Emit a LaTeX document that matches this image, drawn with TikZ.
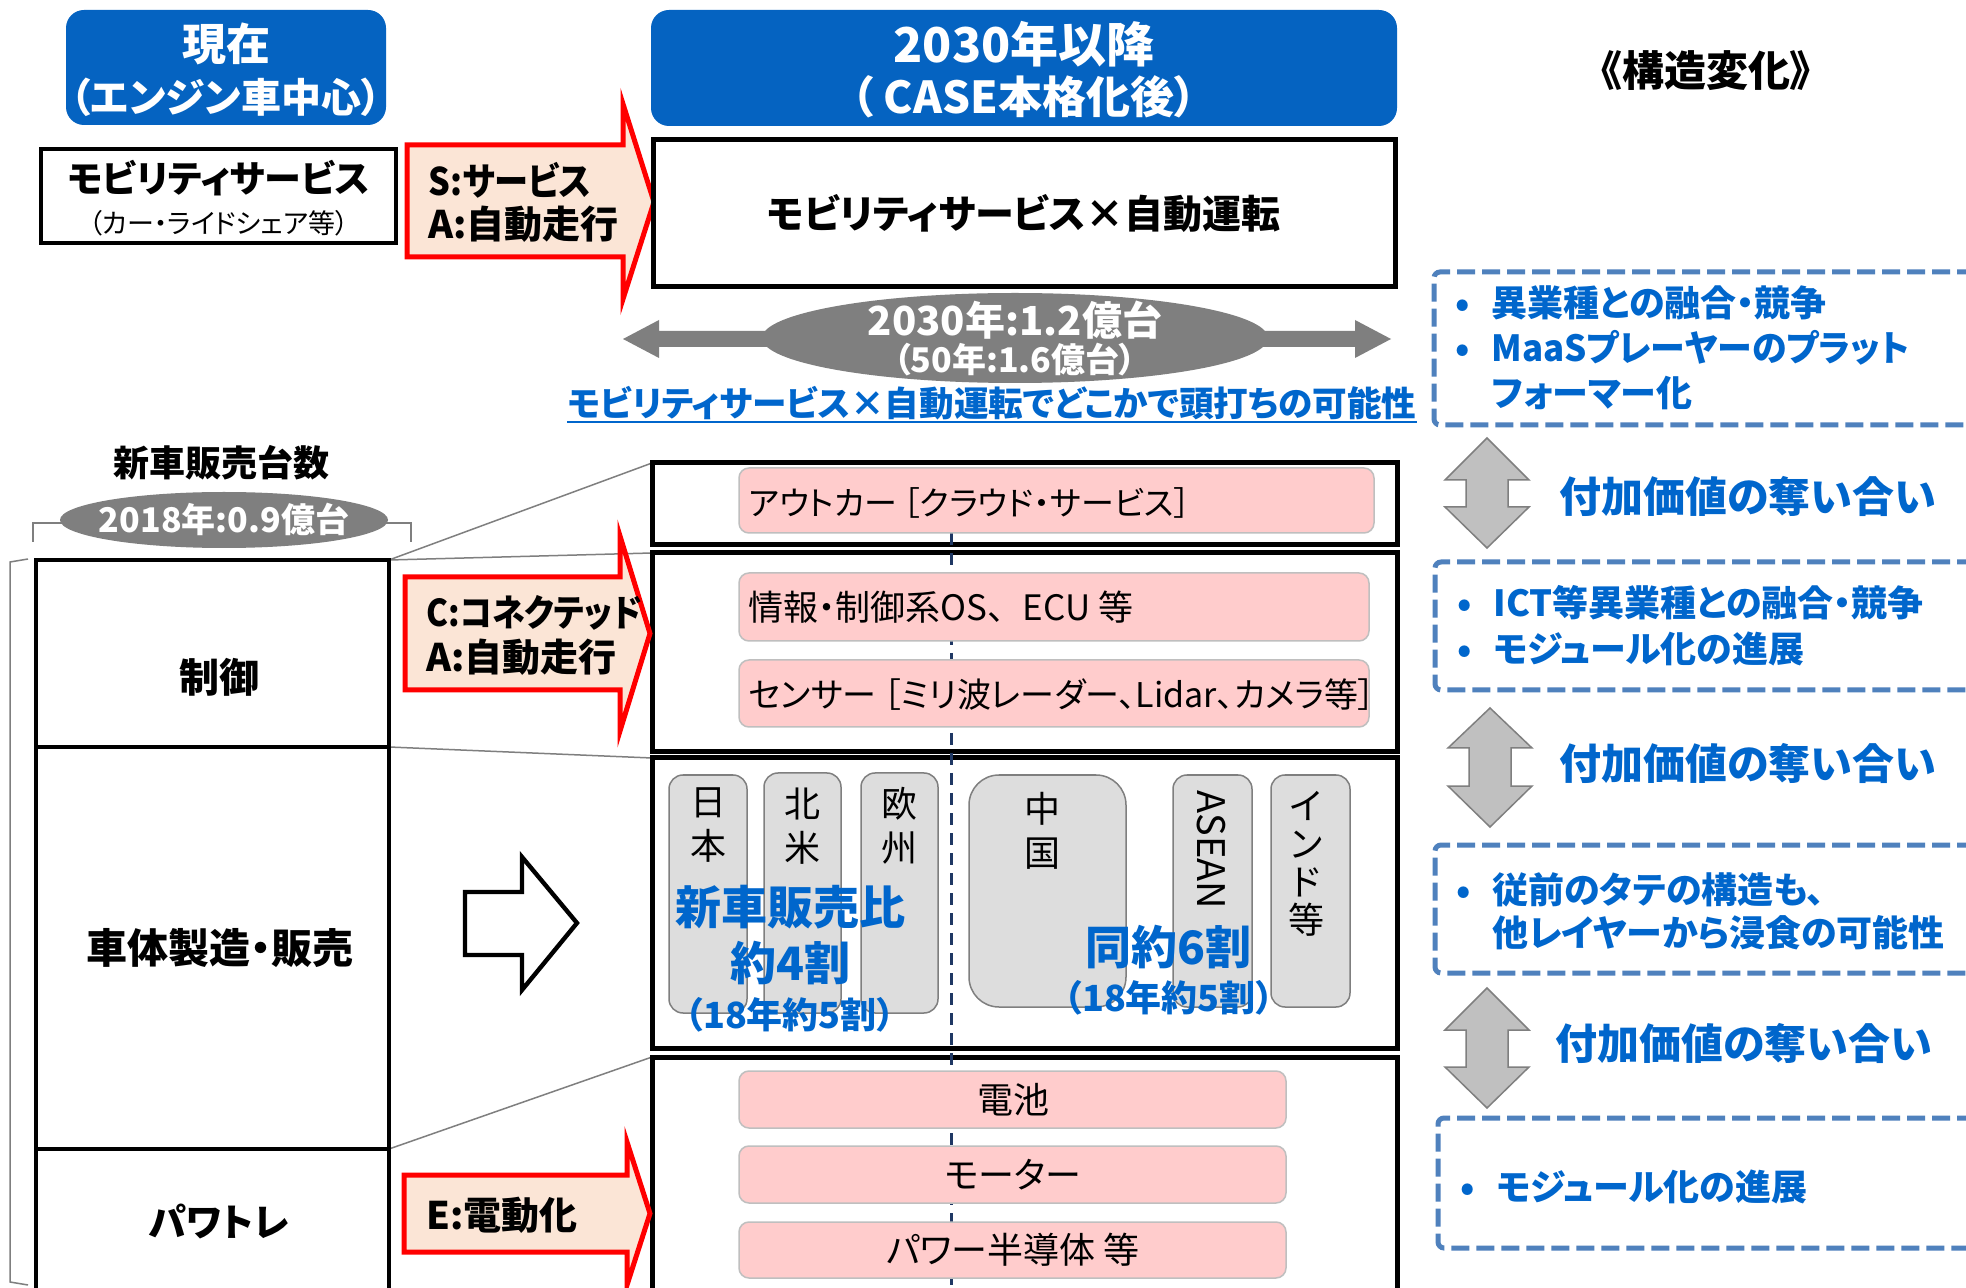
\documentclass[tikz,border=0pt]{standalone}
\usepackage{fontspec}
\setmainfont{Noto Sans CJK JP}[RawFeature={+palt}]
\newfontfamily\jpfull{Noto Sans CJK JP}
\usetikzlibrary{shapes.geometric}
\definecolor{hblue}{HTML}{0563C1}
\definecolor{tblue}{HTML}{0066CC}
\definecolor{dblue}{HTML}{4F81BD}
\definecolor{navy}{HTML}{1F3864}
\definecolor{pinkf}{HTML}{FFCCCC}
\definecolor{peach}{HTML}{FBE5D6}
\definecolor{cgray}{HTML}{DDDDDD}
\definecolor{agray}{HTML}{C0C0C0}
\definecolor{mgray}{HTML}{7F7F7F}
\definecolor{lgray}{HTML}{BFBFBF}
\begin{document}
\begin{tikzpicture}[x=0.5pt,y=-0.5pt,
  T/.style={inner sep=0pt, font=\fontsize{#1}{#1}\selectfont},
  B/.style={inner sep=0pt, font=\fontsize{#1}{#1}\selectfont\bfseries},
  V/.style={inner sep=0pt, align=center, font=\fontsize{18pt}{22pt}\selectfont},
  blk/.style={draw=black, line width=2pt, inner sep=0pt, fill=white},
  hdr/.style={fill=hblue, rounded corners=9pt, inner sep=0pt},
  pinkbox/.style={fill=pinkf, draw=lgray, line width=0.75pt, rounded corners=5pt, inner sep=0pt, minimum width=#1},
  ctry/.style={fill=cgray, draw=mgray, line width=0.75pt, rounded corners=7pt, inner sep=0pt},
  redarrow/.style={fill=peach, draw=red, line width=2.5pt},
  varrow/.style={fill=agray, draw=mgray, line width=0.75pt},
  dbox/.style={draw=dblue, line width=2.5pt, dash pattern=on 9pt off 3.5pt, rounded corners=3pt},
  conn/.style={draw=mgray, line width=0.75pt},
]
\fill[white] (0,0) rectangle (1966,1288);
\useasboundingbox (0,0) rectangle (1966,1288);

% headers
\node[hdr, minimum width=160pt, minimum height=57.5pt] (h1) at (226,67.5) {};
\node[B=22pt, text=white] (h1a) at (226,44) {現在};
\node[B=20pt, text=white] (h1b) at (226,97) {（エンジン車中心）};
\node[hdr, minimum width=373pt, minimum height=58pt] (h2) at (1024,68) {};
\node[B=24pt, text=white] (h2a) at (1024,44) {2030年以降};
\node[B=22pt, text=white] (h2b) at (1024,97) {（ CASE本格化後）};
\node[B=21pt] (kozo) at (1706,71) {《構造変化》};

% mobility service (current)
\node[blk, minimum width=177.5pt, minimum height=47pt] (ms) at (218.5,196) {};
\node[B=18.5pt] (msa) at (218.5,178) {モビリティサービス};
\node[T=13.5pt] (msb) at (219,223) {（カー・ライドシェア等）};

% red arrow 1
\draw[redarrow] (407,145) -- (623,145) -- (623,104) -- (654,202) -- (623,299) -- (623,257) -- (407,257) -- cycle;
\node[B=19pt, anchor=west] (sa1) at (428,180) {\scalebox{0.9}[1]{S:サービス}};
\node[B=19pt, anchor=west] (sa2) at (428,224) {A:自動走行};

% mobility x autonomous
\node[blk, line width=2.5pt, minimum width=371pt, minimum height=73.5pt, font=\fontsize{19.5pt}{19.5pt}\selectfont\bfseries] (mx) at (1024,213.5) {モビリティサービス×自動運転};

% gray double arrow + ellipse
\fill[mgray] (623,339) -- (659,320) -- (659,331) -- (1355,331) -- (1355,320) -- (1391,339) -- (1355,358) -- (1355,347) -- (659,347) -- (659,358) -- cycle;
\node[ellipse, fill=mgray, minimum width=253pt, minimum height=45pt, inner sep=0pt] (el1) at (1015,338) {};
\node[B=20pt, text=white] (el1a) at (1015,320) {2030年:1.2億台};
\node[B=17pt, text=white] (el1b) at (1015,360) {（50年:1.6億台）};

% blue underlined caption
\node[B=17.3pt, text=tblue] (cap) at (992,403) {モビリティサービス×自動運転でどこかで頭打ちの可能性};
\draw[tblue, line width=1.2pt] ([yshift=-1pt]cap.south west) -- ([yshift=-1pt]cap.south east);

% dashed boxes
\draw[dbox] (1975,272) -- (1434,272) -- (1434,425) -- (1975,425);
\draw[dbox] (1975,562) -- (1435,562) -- (1435,690) -- (1975,690);
\draw[dbox] (1975,845) -- (1435,845) -- (1435,973) -- (1975,973);
\draw[dbox] (1975,1118) -- (1438,1118) -- (1438,1248) -- (1975,1248);

\node[B=18pt, text=tblue, anchor=west] (d1a) at (1455,303) {\makebox[18pt][l]{•}異業種との融合・競争};
\node[B=18pt, text=tblue, anchor=west] (d1b) at (1455,348) {\makebox[18pt][l]{•}\scalebox{0.97}[1]{MaaSプレーヤーのプラット}};
\node[B=18pt, text=tblue, anchor=west] (d1c) at (1491,393) {フォーマー化};
\node[B=18pt, text=tblue, anchor=west] (d2a) at (1457,603) {\makebox[18pt][l]{•}ICT等異業種との融合・競争};
\node[B=18pt, text=tblue, anchor=west] (d2b) at (1457,649) {\makebox[18pt][l]{•}モジュール化の進展};
\node[B=18pt, text=tblue, anchor=west] (d3a) at (1456,890) {\makebox[18pt][l]{•}従前のタテの構造も、};
\node[B=18pt, text=tblue, anchor=west] (d3b) at (1492,933) {他レイヤーから浸食の可能性};
\node[B=18pt, text=tblue, anchor=west] (d4a) at (1460,1187) {\makebox[18pt][l]{•}モジュール化の進展};

% vertical gray arrows
\draw[varrow] (1487,438) -- (1529,480) -- (1508,480) -- (1508,507) -- (1529,507) -- (1487,548) -- (1445,507) -- (1466,507) -- (1466,480) -- (1445,480) -- cycle;
\draw[varrow] (1490,708) -- (1532,748) -- (1511,748) -- (1511,786) -- (1532,786) -- (1490,827) -- (1448,786) -- (1469,786) -- (1469,748) -- (1448,748) -- cycle;
\draw[varrow] (1487,988) -- (1529,1030) -- (1508,1030) -- (1508,1067) -- (1529,1067) -- (1487,1108) -- (1445,1067) -- (1466,1067) -- (1466,1030) -- (1445,1030) -- cycle;
\node[B=21pt, text=tblue, anchor=west] (v1t) at (1559,496) {付加価値の奪い合い};
\node[B=21pt, text=tblue, anchor=west] (v2t) at (1559,763) {付加価値の奪い合い};
\node[B=21pt, text=tblue, anchor=west] (v3t) at (1555,1043) {付加価値の奪い合い};

% left: new car sales
\node[B=18pt] (shin) at (221,463) {新車販売台数};
\draw[conn] (33,542) -- (33,523) -- (411,523) -- (411,542);
\node[ellipse, fill=mgray, minimum width=164pt, minimum height=28pt, inner sep=0pt] (el2) at (224,520) {};
\node[B=17pt, text=white] (el2t) at (224,519) {2018年:0.9億台};
\draw[conn] (28,559) -- (10,562) -- (10,1282) -- (28,1285);

% connectors (behind boxes)
\coordinate (l1ne) at (389,560);
\coordinate (l1se) at (389,747);
\coordinate (l2se) at (389,1149);
\coordinate (rat) at (652,463);
\coordinate (rbt) at (652,553);
\coordinate (rct) at (652,758);
\coordinate (rdt) at (652,1057);
\draw[conn] (l1ne) -- (rat);
\draw[conn] (l1ne) -- (rbt);
\draw[conn] (l1se) -- (rct);
\draw[conn] (l2se) -- (rdt);

% left boxes
\node[blk, minimum width=176.5pt, minimum height=93.5pt] (L1) at (212.5,653.5) {};
\node[blk, minimum width=176.5pt, minimum height=201pt] (L2) at (212.5,948) {};
\node[blk, minimum width=176.5pt, minimum height=73.5pt] (L3) at (212.5,1222.5) {};
\node[B=20pt] (L1t) at (219,677) {制御};
\node[B=20.5pt] (L2t) at (220,948) {車体製造・販売};
\node[B=19pt] (L3t) at (219,1221) {パワトレ};

% right layer boxes
\node[blk, line width=2.5pt, minimum width=372.5pt, minimum height=41pt] (RA) at (1024.5,504) {};
\node[blk, line width=2.5pt, minimum width=372.5pt, minimum height=99.5pt] (RB) at (1024.5,652.5) {};
\node[blk, line width=2.5pt, minimum width=372.5pt, minimum height=145pt] (RC) at (1024.5,903) {};
\node[blk, line width=2.5pt, minimum width=372.5pt, minimum height=119.5pt] (RD) at (1024.5,1176.5) {};

% navy dashed divider
\coordinate (dv1) at (951,533);
\coordinate (dv2) at (951,1292);
\draw[navy, line width=1.5pt, dash pattern=on 6pt off 4pt] (dv1) -- (dv2);

% pink boxes
\node[pinkbox=317.5pt, minimum height=32.5pt] (pA) at (1056.5,500.5) {};
\node[T=16.5pt, anchor=west] (pAt) at (748,503) {アウトカー\hspace{3pt}［クラウド・サービス］};
\node[pinkbox=315pt, minimum height=34pt] (pB1) at (1054,607) {};
\node[T=17.5pt, anchor=west] (pB1t) at (748,607) {情報・制御系OS{\jpfull 、}ECU 等};
\node[pinkbox=315pt, minimum height=33.5pt] (pB2) at (1054,693.5) {};
\node[T=17pt, anchor=west] (pB2t) at (748,695) {センサー ［ミリ波レーダー、Lidar、カメラ等］};
\node[pinkbox=273.5pt, minimum height=28.5pt] (pD1) at (1012.5,1099.5) {};
\node[T=18pt] (pD1t) at (1013,1100) {電池};
\node[pinkbox=273.5pt, minimum height=28.5pt] (pD2) at (1012.5,1174.5) {};
\node[T=18pt] (pD2t) at (1013,1175) {モーター};
\node[pinkbox=273.5pt, minimum height=28pt] (pD3) at (1012.5,1250) {};
\node[T=18pt] (pD3t) at (1013,1250) {パワー半導体 等};

% country boxes
\node[ctry, minimum width=39pt, minimum height=119pt] (jp) at (708,894) {};
\node[ctry, minimum width=38.5pt, minimum height=120pt] (na) at (802.5,893) {};
\node[ctry, minimum width=38.5pt, minimum height=120pt] (eu) at (899.5,893) {};
\node[ctry, rounded corners=15pt, minimum width=78.5pt, minimum height=116pt] (cn) at (1047.5,891) {};
\node[ctry, minimum width=39.5pt, minimum height=116pt] (as) at (1212.5,891) {};
\node[ctry, minimum width=39.5pt, minimum height=116pt] (in) at (1310.5,891) {};
\node[V] (jpt) at (708,825) {日\\本};
\node[V] (nat) at (802,826) {北\\米};
\node[V] (eut) at (899,826) {欧\\州};
\node[V] (cnt) at (1042,831) {中\\国};
\node[T=19pt, rotate=-90] (ast) at (1211,850) {ASEAN};
\node[inner sep=0pt, align=center, font=\fontsize{18pt}{19pt}\selectfont] (int) at (1306,864) {イ\\ン\\ド\\等};

\node[B=23pt, text=tblue] (c1a) at (790,907) {新車販売比};
\node[B=23pt, text=tblue] (c1b) at (790,963) {約4割};
\node[B=18pt, text=tblue] (c1c) at (790,1015) {（18年約5割）};
\node[B=23pt, text=tblue] (c2a) at (1168,947) {同約6割};
\node[B=18pt, text=tblue] (c2b) at (1169,998) {（18年約5割）};

% red arrow 2
\draw[redarrow] (405,577) -- (620,577) -- (620,536) -- (650,633.5) -- (620,731) -- (620,690) -- (405,690) -- cycle;
\node[B=18.5pt, anchor=west] (ca1) at (426,613) {\scalebox{0.89}[1]{C:コネクテッド}};
\node[B=19pt, anchor=west] (ca2) at (426,657) {A:自動走行};

% red arrow 3
\draw[redarrow] (404,1175) -- (627,1175) -- (627,1142) -- (650,1213.5) -- (627,1285) -- (627,1252) -- (404,1252) -- cycle;
\node[B=19pt, anchor=west] (e1) at (426,1215) {E:電動化};

% white block arrow
\draw[line width=2.2pt, fill=white] (465,892) -- (522,892) -- (522,857) -- (577,923) -- (522,990) -- (522,955) -- (465,955) -- cycle;
\end{tikzpicture}
\end{document}
